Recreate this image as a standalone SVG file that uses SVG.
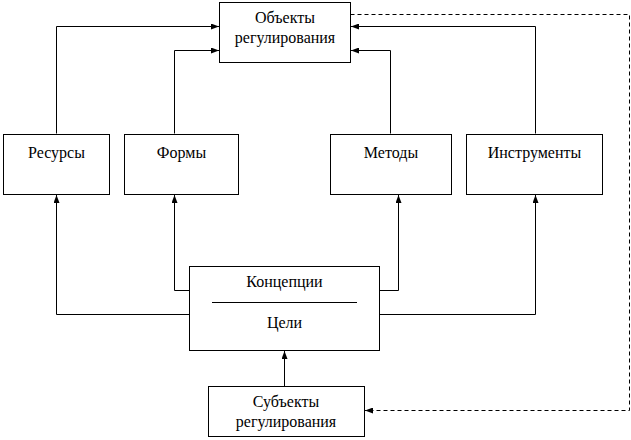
<svg xmlns="http://www.w3.org/2000/svg" width="631" height="440" viewBox="0 0 631 440">
<style>
.box{fill:#fff;stroke:#000;stroke-width:1}
.t{font-family:'Liberation Serif','Times New Roman',serif;font-size:16px;fill:#000;text-anchor:middle}
.c{fill:none;stroke:#000;stroke-width:1}
.d{fill:none;stroke:#000;stroke-width:1;stroke-dasharray:4 3}
</style>
<defs>
<marker id="ah" viewBox="0 0 8 6" refX="8" refY="3" markerWidth="8" markerHeight="6" markerUnits="userSpaceOnUse" orient="auto">
<path d="M0,0 L8,3 L0,6 Z" fill="#000"/>
</marker>
</defs>
<g id="connectors">
<polyline class="c" points="56.5,133.5 56.5,26.5 219,26.5" marker-end="url(#ah)"/>
<polyline class="c" points="174.5,133.5 174.5,50.5 219,50.5" marker-end="url(#ah)"/>
<polyline class="c" points="390.5,133.5 390.5,50.5 351,50.5" marker-end="url(#ah)"/>
<polyline class="c" points="535.5,133.5 535.5,26.5 351,26.5" marker-end="url(#ah)"/>
<polyline class="c" points="189.5,314.5 56.5,314.5 56.5,195" marker-end="url(#ah)"/>
<polyline class="c" points="189.5,290.5 174.5,290.5 174.5,195" marker-end="url(#ah)"/>
<polyline class="c" points="379.5,290.5 398.5,290.5 398.5,195" marker-end="url(#ah)"/>
<polyline class="c" points="379.5,314.5 535.5,314.5 535.5,195" marker-end="url(#ah)"/>
<line class="c" x1="284.5" y1="386.5" x2="284.5" y2="351" marker-end="url(#ah)"/>
<polyline class="d" points="350.5,14.5 629.5,14.5 629.5,410.5 365,410.5" marker-end="url(#ah)"/>
</g>
<g id="node-objects">
<rect class="box" x="219.5" y="2.5" width="131" height="60"/>
<text class="t" x="285" y="23">Объекты</text>
<text class="t" x="285" y="43">регулирования</text>
</g>
<g id="node-resources">
<rect class="box" x="3.5" y="134.5" width="106" height="60"/>
<text class="t" x="56.5" y="158">Ресурсы</text>
</g>
<g id="node-forms">
<rect class="box" x="124.5" y="134.5" width="114" height="60"/>
<text class="t" x="181.5" y="158">Формы</text>
</g>
<g id="node-methods">
<rect class="box" x="330.5" y="134.5" width="121" height="60"/>
<text class="t" x="391" y="158">Методы</text>
</g>
<g id="node-instruments">
<rect class="box" x="466.5" y="134.5" width="136" height="60"/>
<text class="t" x="534.5" y="158">Инструменты</text>
</g>
<g id="node-concepts">
<rect class="box" x="189.5" y="266.5" width="190" height="84"/>
<text class="t" x="284.5" y="287">Концепции</text>
<line class="c" x1="212" y1="302.5" x2="357" y2="302.5"/>
<text class="t" x="284.5" y="328">Цели</text>
</g>
<g id="node-subjects">
<rect class="box" x="208.5" y="386.5" width="156" height="50"/>
<text class="t" x="286" y="407">Субъекты</text>
<text class="t" x="286" y="427">регулирования</text>
</g>
</svg>
